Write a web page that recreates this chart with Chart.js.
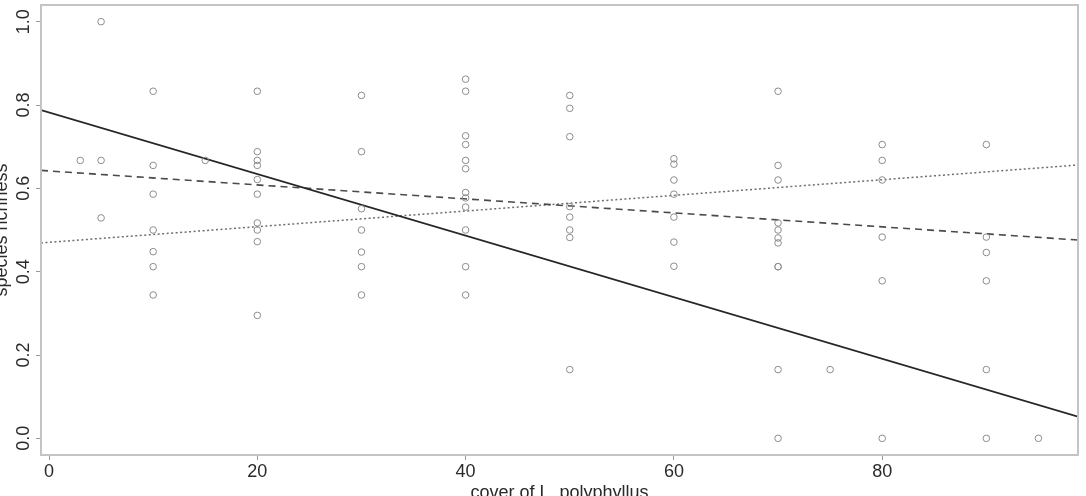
<!DOCTYPE html>
<html>
<head>
<meta charset="utf-8">
<script src="https://cdn.jsdelivr.net/npm/chart.js@4/dist/chart.umd.min.js"></script>
<style>
  html, body { margin: 0; padding: 0; background: #fff; }
  #wrap { width: 1086px; height: 496px; }
</style>
</head>
<body>
<div id="wrap"><canvas id="myChart"></canvas></div>
<script>
// observed points: cover of L. polyphyllus (%) vs species richness
const cover = [
    3,
    5, 5, 5,
    10, 10, 10, 10, 10, 10, 10,
    15,
    20, 20, 20, 20, 20, 20, 20, 20, 20, 20,
    30, 30, 30, 30, 30, 30, 30,
    40, 40, 40, 40, 40, 40, 40, 40, 40, 40, 40, 40,
    50, 50, 50, 50, 50, 50, 50, 50,
    60, 60, 60, 60, 60, 60, 60,
    70, 70, 70, 70, 70, 70, 70, 70, 70, 70, 70,
    75,
    80, 80, 80, 80, 80, 80,
    90, 90, 90, 90, 90, 90,
    95
];
const richness = [
    0.667,
    1.0, 0.667, 0.529,
    0.833, 0.655, 0.586, 0.5, 0.448, 0.412, 0.344,
    0.667,
    0.833, 0.688, 0.667, 0.655, 0.621, 0.586, 0.517, 0.5, 0.472, 0.295,
    0.823, 0.688, 0.551, 0.5, 0.447, 0.412, 0.344,
    0.862, 0.833, 0.726, 0.705, 0.667, 0.647, 0.59, 0.577, 0.555, 0.5, 0.412, 0.344,
    0.823, 0.792, 0.724, 0.556, 0.531, 0.5, 0.482, 0.165,
    0.671, 0.658, 0.62, 0.586, 0.531, 0.471, 0.413,
    0.833, 0.655, 0.62, 0.517, 0.5, 0.481, 0.469, 0.412, 0.412, 0.165, 0.0,
    0.165,
    0.705, 0.667, 0.62, 0.483, 0.378, 0.0,
    0.705, 0.483, 0.446, 0.378, 0.165, 0.0,
    0.0
];

// fitted lines, read at the left and right edge of the plot box
const fitX = [-0.77, 98.8];
const solidFit = [0.788, 0.052];
const dashedFit = [0.643, 0.476];
const dottedFit = [0.469, 0.656];

const xTicks = [0, 20, 40, 60, 80];
const yTicks = [0.0, 0.2, 0.4, 0.6, 0.8, 1.0];
const xTitle = 'cover of L. polyphyllus';
const yTitle = 'species richness';

const FONT = '"Liberation Sans", Arial, sans-serif';

function fitLine(vals) {
    return fitX.map((x, i) => ({ x: x, y: vals[i] }));
}

// box round the plot, vertical y tick labels and axis titles (R style)
const rAxesPlugin = {
    id: 'rAxes',
    afterDraw(chart) {
        const ctx = chart.ctx;
        const a = chart.chartArea;
        const ys = chart.scales.y;
        ctx.save();
        ctx.strokeStyle = '#c4c4c4';
        ctx.lineWidth = 2;
        ctx.strokeRect(a.left, a.top, a.right - a.left, a.bottom - a.top);

        ctx.fillStyle = '#2a2a2a';
        ctx.font = '18px ' + FONT;
        ctx.textAlign = 'center';
        ctx.textBaseline = 'middle';
        yTicks.forEach(v => {
            ctx.save();
            ctx.translate(24, ys.getPixelForValue(v));
            ctx.rotate(-Math.PI / 2);
            ctx.fillText(v.toFixed(1), 0, 0);
            ctx.restore();
        });

        ctx.save();
        ctx.translate(2, (a.top + a.bottom) / 2);
        ctx.rotate(-Math.PI / 2);
        ctx.fillText(yTitle, 0, 0);
        ctx.restore();

        ctx.fillText(xTitle, (a.left + a.right) / 2, 493);
        ctx.restore();
    }
};

new Chart(document.getElementById('myChart'), {
    type: 'scatter',
    data: {
        datasets: [
            {
                label: 'plots',
                data: cover.map((c, i) => ({ x: c, y: richness[i] })),
                pointRadius: 3.3,
                pointBorderWidth: 1,
                pointBorderColor: '#8c8c8c',
                pointBackgroundColor: 'rgba(255,255,255,0)'
            },
            {
                type: 'line',
                label: 'solid',
                data: fitLine(solidFit),
                borderColor: '#262626',
                borderWidth: 1.8,
                pointRadius: 0
            },
            {
                type: 'line',
                label: 'dashed',
                data: fitLine(dashedFit),
                borderColor: '#4a4a4a',
                borderWidth: 1.6,
                borderDash: [7, 5],
                pointRadius: 0
            },
            {
                type: 'line',
                label: 'dotted',
                data: fitLine(dottedFit),
                borderColor: '#6e6e6e',
                borderWidth: 1.5,
                borderDash: [2, 2.5],
                pointRadius: 0
            }
        ]
    },
    options: {
        responsive: true,
        maintainAspectRatio: false,
        animation: false,
        layout: { padding: { left: 0, right: 8, top: 2, bottom: 0 } },
        plugins: {
            legend: { display: false },
            tooltip: { enabled: false }
        },
        scales: {
            x: {
                type: 'linear',
                min: fitX[0],
                max: fitX[1],
                afterBuildTicks: s => { s.ticks = xTicks.map(v => ({ value: v })); },
                afterFit: s => { s.height = 41; },
                border: { display: false },
                grid: {
                    drawOnChartArea: false,
                    drawTicks: true,
                    tickLength: 5,
                    color: '#999'
                },
                ticks: {
                    padding: 1,
                    color: '#2a2a2a',
                    font: { family: FONT, size: 18 },
                    maxRotation: 0,
                    callback: v => String(v)
                }
            },
            y: {
                type: 'linear',
                min: -0.04,
                max: 1.04,
                afterBuildTicks: s => { s.ticks = yTicks.map(v => ({ value: v })); },
                afterFit: s => { s.width = 41; },
                border: { display: false },
                grid: {
                    drawOnChartArea: false,
                    drawTicks: true,
                    tickLength: 5,
                    color: '#999'
                },
                ticks: { display: false }
            }
        }
    },
    plugins: [rAxesPlugin]
});
</script>
</body>
</html>
